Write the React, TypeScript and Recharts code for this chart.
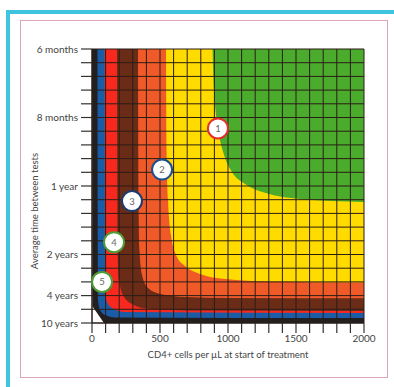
import { Area, CartesianGrid, ComposedChart, Label, Scatter, XAxis, YAxis } from "recharts";

// x = CD4+ cells per µL, y = grid row counted from the top (0 = 6 months, 20 = 10 years)
const xTicks = [0, 100, 200, 300, 400, 500, 600, 700, 800, 900, 1000, 1100, 1200, 1300, 1400, 1500, 1600, 1700, 1800, 1900, 2000];
const xTickLabels = [0, 500, 1000, 1500, 2000];
const yTicks = [0, 1, 2, 3, 4, 5, 6, 7, 8, 9, 10, 11, 12, 13, 14, 15, 16, 17, 18, 19, 20];
const yTickIndex = [0, 5, 10, 15, 18, 20];
const yTickText = ["6 months", "8 months", "1 year", "2 years", "4 years", "10 years"];

// lower/left edge of each coloured zone
const blackX = [0, 4, 88, 2000];
const blackY = [0, 18.8, 20, 20];
const blueX = [40, 44, 59, 96, 169, 2000];
const blueY = [0, 18.3, 19.05, 19.42, 19.6, 19.64];
const redX = [92, 96, 110, 147, 243, 2000];
const redY = [0, 17.6, 18.47, 18.9, 19.2, 19.27];
const brownX = [184, 188, 199, 228, 294, 426, 794, 2000];
const brownY = [0, 14.7, 16.86, 17.96, 18.61, 18.98, 19.09, 19.12];
const orangeX = [338, 342, 349, 368, 412, 500, 684, 1015, 2000];
const orangeY = [0, 11.0, 14.67, 16.5, 17.45, 17.88, 18.1, 18.18, 18.2];
const yellowX = [544, 548, 559, 581, 618, 684, 794, 978, 1309, 2000];
const yellowY = [0, 7.37, 11.02, 13.58, 15.04, 15.84, 16.42, 16.79, 16.97, 17.04];
const greenX = [886, 897, 912, 934, 971, 1029, 1125, 1272, 1529, 2000];
const greenY = [0, 3.0, 4.82, 6.28, 7.74, 8.98, 9.85, 10.5, 10.95, 11.17];

const markerX = [926, 515, 294, 162, 74];
const markerY = [5.8, 8.8, 11.1, 14.1, 17.0];
const markerText = ["1", "2", "3", "4", "5"];

const zones = [
  { key: "black", xs: blackX, ys: blackY, color: "#231f20", curve: "linear" },
  { key: "blue", xs: blueX, ys: blueY, color: "#1b5ca6", curve: "monotone" },
  { key: "red", xs: redX, ys: redY, color: "#f7291f", curve: "monotone" },
  { key: "brown", xs: brownX, ys: brownY, color: "#6a2b17", curve: "monotone" },
  { key: "orange", xs: orangeX, ys: orangeY, color: "#f05a29", curve: "monotone" },
  { key: "yellow", xs: yellowX, ys: yellowY, color: "#ffdb00", curve: "monotone" },
  { key: "green", xs: greenX, ys: greenY, color: "#4aab2c", curve: "monotone" },
] as const;

const ringColors = ["#e2312c", "#1d4f8e", "#1c3c70", "#4f9b34", "#4f9b34"];

const rows = new Map<number, Record<string, number>>();
zones.forEach((z) => {
  z.xs.forEach((x, i) => {
    const row = rows.get(x) ?? { x };
    row[z.key] = z.ys[i];
    rows.set(x, row);
  });
});
const tableData = [...rows.values()].sort((a, b) => a.x - b.x);

const markers = markerX.map((x, i) => ({ x, y: markerY[i], n: markerText[i] }));

const font = "Lato, 'Open Sans', sans-serif";

function Marker(props: any) {
  const { cx, cy, payload } = props;
  const ring = ringColors[Number(payload.n) - 1];
  return (
    <g>
      <circle cx={cx} cy={cy} r={10} fill="#fff" stroke={ring} strokeWidth={2} />
      <text x={cx} y={cy + 3.5} textAnchor="middle" fontSize={9.5} fill="#666" fontFamily={font}>
        {payload.n}
      </text>
    </g>
  );
}

function YTitle({ viewBox }: any) {
  const cx = viewBox.x + 18;
  const cy = viewBox.y + viewBox.height / 2 + 25;
  return (
    <text x={cx} y={cy} transform={`rotate(-90 ${cx} ${cy})`} textAnchor="middle" fontSize={9.5} fill="#444" fontFamily={font}>
      Average time between tests
    </text>
  );
}

export default function App() {
  return (
    <div style={{ position: "absolute", left: 0, top: 0, width: 394, height: 387, background: "#fff" }}>
      <div style={{ position: "absolute", left: 6, top: 10, width: 388, height: 4, background: "#3ec4df" }} />
      <div style={{ position: "absolute", left: 6, top: 10, width: 4, height: 377, background: "#3ec4df" }} />
      <div
        style={{
          position: "absolute",
          left: 20,
          top: 20,
          width: 368,
          height: 358,
          border: "1px solid #dba6b8",
          boxSizing: "border-box",
        }}
      />
      <div style={{ position: "absolute", left: 0, top: 0 }}>
        <ComposedChart width={394} height={387} data={tableData} margin={{ top: 49, right: 30, bottom: 24, left: 20 }}>
          <XAxis
            dataKey="x"
            type="number"
            domain={[0, 2000]}
            ticks={xTicks}
            interval={0}
            tickFormatter={(v: number) => (xTickLabels.includes(v) ? String(v) : "")}
            tickSize={10}
            tickMargin={2}
            height={40}
            stroke="#231f20"
            tickLine={{ stroke: "#333", strokeWidth: 1.2 }}
            tick={{ fill: "#444", fontSize: 10, fontFamily: font }}
          >
            <Label
              value="CD4+ cells per µL at start of treatment"
              position="insideBottom"
              offset={5}
              fill="#444"
              fontSize={9.5}
              fontFamily={font}
            />
          </XAxis>
          <YAxis
            type="number"
            domain={[0, 20]}
            reversed
            ticks={yTicks}
            interval={0}
            tickFormatter={(v: number) => {
              const i = yTickIndex.indexOf(v);
              return i >= 0 ? yTickText[i] : "";
            }}
            tickSize={11}
            tickMargin={3}
            width={72}
            stroke="#231f20"
            tickLine={{ stroke: "#333", strokeWidth: 1.2 }}
            tick={{ fill: "#444", fontSize: 10, fontFamily: font }}
          >
            <Label content={<YTitle />} />
          </YAxis>
          {zones.map((z) => (
            <Area
              key={z.key}
              dataKey={z.key}
              type={z.curve}
              baseValue={0}
              connectNulls
              stroke="none"
              fill={z.color}
              fillOpacity={1}
              isAnimationActive={false}
            />
          ))}
          <CartesianGrid stroke="#2a1d17" strokeWidth={1} zIndex={500} />
          <Scatter data={markers} dataKey="y" shape={<Marker />} isAnimationActive={false} zIndex={600} />
        </ComposedChart>
      </div>
    </div>
  );
}
